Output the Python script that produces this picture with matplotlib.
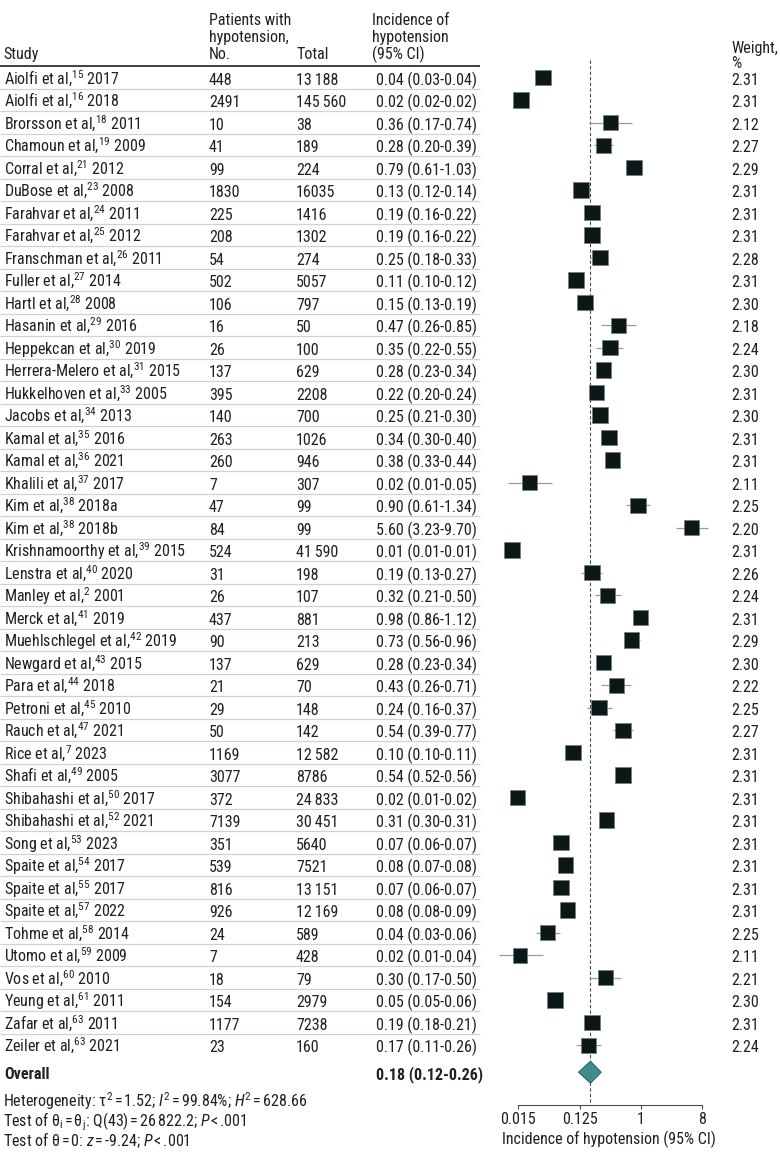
import numpy as np
import matplotlib
matplotlib.use("Agg")
import matplotlib.pyplot as plt
from matplotlib import font_manager as fm
from matplotlib.ticker import NullLocator

# ---------------- data ----------------
names = ["Aiolfi et al", "Aiolfi et al", "Brorsson et al", "Chamoun et al", "Corral et al",
         "DuBose et al", "Farahvar et al", "Farahvar et al", "Franschman et al", "Fuller et al",
         "Hartl et al", "Hasanin et al", "Heppekcan et al", "Herrera-Melero et al",
         "Hukkelhoven et al", "Jacobs et al", "Kamal et al", "Kamal et al", "Khalili et al",
         "Kim et al", "Kim et al", "Krishnamoorthy et al", "Lenstra et al", "Manley et al",
         "Merck et al", "Muehlschlegel et al", "Newgard et al", "Para et al", "Petroni et al",
         "Rauch et al", "Rice et al", "Shafi et al", "Shibahashi et al", "Shibahashi et al",
         "Song et al", "Spaite et al", "Spaite et al", "Spaite et al", "Tohme et al",
         "Utomo et al", "Vos et al", "Yeung et al", "Zafar et al", "Zeiler et al"]
refs = ["15", "16", "18", "19", "21", "23", "24", "25", "26", "27", "28", "29", "30", "31",
        "33", "34", "35", "36", "37", "38", "38", "39", "40", "2", "41", "42", "43", "44", "45",
        "47", "7", "49", "50", "52", "53", "54", "55", "57", "58", "59", "60", "61", "63", "63"]
years = ["2017", "2018", "2011", "2009", "2012", "2008", "2011", "2012", "2011", "2014",
         "2008", "2016", "2019", "2015", "2005", "2013", "2016", "2021", "2017", "2018a",
         "2018b", "2015", "2020", "2001", "2019", "2019", "2015", "2018", "2010", "2021",
         "2023", "2005", "2017", "2021", "2023", "2017", "2017", "2022", "2014", "2009",
         "2010", "2011", "2011", "2021"]
events = [448, 2491, 10, 41, 99, 1830, 225, 208, 54, 502, 106, 16, 26, 137, 395, 140, 263,
          260, 7, 47, 84, 524, 31, 26, 437, 90, 137, 21, 29, 50, 1169, 3077, 372, 7139, 351,
          539, 816, 926, 24, 7, 18, 154, 1177, 23]
totals = ["13\u2009188", "145\u2009560", "38", "189", "224", "16035", "1416", "1302", "274",
          "5057", "797", "50", "100", "629", "2208", "700", "1026", "946", "307", "99", "99",
          "41\u2009590", "198", "107", "881", "213", "629", "70", "148", "142", "12\u2009582",
          "8786", "24\u2009833", "30\u2009451", "5640", "7521", "13\u2009151", "12\u2009169",
          "589", "428", "79", "2979", "7238", "160"]
est = [0.036, 0.0172, 0.36, 0.28, 0.79, 0.13, 0.19, 0.19, 0.25, 0.11, 0.15, 0.47, 0.35,
       0.28, 0.22, 0.25, 0.34, 0.38, 0.023, 0.90, 5.60, 0.0126, 0.19, 0.32, 0.98, 0.73, 0.28,
       0.43, 0.24, 0.54, 0.10, 0.54, 0.0151, 0.31, 0.066, 0.077, 0.066, 0.082, 0.042, 0.0165,
       0.30, 0.054, 0.19, 0.17]
lo = [0.034, 0.016, 0.17, 0.20, 0.61, 0.12, 0.16, 0.16, 0.18, 0.10, 0.13, 0.26, 0.22, 0.23,
      0.20, 0.21, 0.30, 0.33, 0.011, 0.61, 3.23, 0.012, 0.13, 0.21, 0.86, 0.56, 0.23, 0.26,
      0.16, 0.39, 0.10, 0.52, 0.014, 0.30, 0.062, 0.074, 0.062, 0.078, 0.028, 0.008, 0.17,
      0.050, 0.18, 0.11]
hi = [0.038, 0.018, 0.74, 0.39, 1.03, 0.14, 0.22, 0.22, 0.33, 0.12, 0.19, 0.85, 0.55, 0.34,
      0.24, 0.30, 0.40, 0.44, 0.049, 1.34, 9.70, 0.013, 0.27, 0.50, 1.12, 0.96, 0.34, 0.71,
      0.37, 0.77, 0.11, 0.56, 0.016, 0.31, 0.070, 0.080, 0.070, 0.088, 0.064, 0.036, 0.50,
      0.058, 0.21, 0.26]
weights = [2.31, 2.31, 2.12, 2.27, 2.29, 2.31, 2.31, 2.31, 2.28, 2.31, 2.30, 2.18, 2.24, 2.30,
           2.31, 2.30, 2.31, 2.31, 2.11, 2.25, 2.20, 2.31, 2.26, 2.24, 2.31, 2.29, 2.30, 2.22,
           2.25, 2.27, 2.31, 2.31, 2.31, 2.31, 2.31, 2.31, 2.31, 2.31, 2.25, 2.11, 2.21, 2.30,
           2.31, 2.24]
overall_est, overall_lo, overall_hi = 0.18, 0.12, 0.26
tick_vals = [2 ** -6, 2 ** -3, 1, 8]
tick_labels = ["0.015", "0.125", "1", "8"]

# ---------------- fonts ----------------
def pick_font():
    fl = fm.fontManager.ttflist
    nm_set = {f.name for f in fl}
    for nm in ["Roboto Condensed", "Liberation Sans Narrow", "Open Sans Condensed",
               "Noto Sans Condensed", "DejaVu Sans Condensed"]:
        if nm in nm_set:
            return nm, "normal"
    for nm in ["Noto Sans", "Open Sans", "Roboto", "DejaVu Sans"]:
        for f in fl:
            if f.name == nm and str(f.stretch) in ("condensed", "semi-condensed", "extra-condensed"):
                return nm, str(f.stretch)
    return "Roboto", "normal"

FAM, STRETCH = pick_font()
plt.rcParams["font.family"] = [FAM, "DejaVu Sans"]
plt.rcParams["font.stretch"] = STRETCH
plt.rcParams["mathtext.fontset"] = "custom"
plt.rcParams["mathtext.rm"] = f"{FAM}:stretch={STRETCH}"
plt.rcParams["mathtext.it"] = f"{FAM}:style=italic:stretch={STRETCH}"
plt.rcParams["mathtext.bf"] = f"{FAM}:weight=bold:stretch={STRETCH}"
plt.rcParams["mathtext.default"] = "regular"

FS = 11.5
TXT = "#231f20"

# ---------------- layout ----------------
W, H = 780, 1158
fig = plt.figure(figsize=(W / 100, H / 100), dpi=100)
ax = fig.add_axes([0, 0, 1, 1])
X1, PXU = 641.0, 20.43       # pixel of value 1, pixels per log2 unit
Y0, DY = 77.7, 22.5          # pixel of first row, row pitch
ax.set_xscale("log", base=2)
ax.set_xlim(2 ** ((0 - X1) / PXU), 2 ** ((W - X1) / PXU))
ax.set_ylim((H - Y0) / DY, (0 - Y0) / DY)

n = len(names)
rows = np.arange(n)
y_over = n + 0.2
y_axis = n + 1.66
ytr = ax.get_yaxis_transform()  # x axes fraction (= figure fraction), y data
XW = 731                         # weight column

def fx(px):
    return px / W

def fy(px):
    return 1 - px / H

# header
hdr = dict(transform=fig.transFigure, fontsize=FS, color=TXT, va="center", ha="left")
fig.text(fx(3), fy(54.5), "Study", **hdr)
for txt, yy in zip(["Patients with", "hypotension,", "No."], [20.7, 37.5, 54.5]):
    fig.text(fx(209), fy(yy), txt, **hdr)
fig.text(fx(296), fy(54.5), "Total", **hdr)
for txt, yy in zip(["Incidence of", "hypotension", "(95% CI)"], [20.7, 37.5, 54.5]):
    fig.text(fx(372), fy(yy), txt, **hdr)
fig.text(fx(XW), fy(48.5), "Weight,", **hdr)
fig.text(fx(XW), fy(63.5), "%", **hdr)

# rules
ax.hlines(-0.5, 0, fx(480), transform=ytr, color=TXT, lw=1.2, zorder=1)
ax.hlines(rows[:-1] + 0.5, 0, fx(480), transform=ytr, color="#d3d3c3", lw=0.9, zorder=1)

# table rows
for i in range(n):
    yb = i + 0.31
    kw = dict(transform=ytr, fontsize=FS, color=TXT, va="baseline", ha="left")
    ax.text(fx(4), yb, f"{names[i]},$^{{{refs[i]}}}$ {years[i]}", **kw)
    ax.text(fx(209), yb, f"{events[i]}", **kw)
    ax.text(fx(296), yb, totals[i], **kw)
    ax.text(fx(376), yb, f"{est[i]:.2f} ({lo[i]:.2f}-{hi[i]:.2f})", **kw)
    ax.text(fx(XW), yb, f"{weights[i]:.2f}", **kw)

# overall row
kwb = dict(transform=ytr, fontsize=FS, color=TXT, va="baseline", ha="left", fontweight="bold")
ax.text(fx(4), y_over + 0.31, "Overall", **kwb)
ax.text(fx(376), y_over + 0.31,
        f"{overall_est:.2f} ({overall_lo:.2f}-{overall_hi:.2f})", **kwb)

# footer
ft = dict(transform=fig.transFigure, fontsize=FS, color=TXT, va="center", ha="left")
fig.text(fx(3), fy(1101.5),
         r"Heterogeneity: τ$^{2}\,$=$\,$1.52; $\mathit{I}^{2}\,$=$\,$99.84%; "
         r"$\mathit{H}^{2}\,$=$\,$628.66", **ft)
fig.text(fx(3), fy(1121.5),
         r"Test of θ$_{i}\,$=$\,$θ$_{j}$: Q(43)$\,$=$\,$26$\,$822.2; $\mathit{P}\,$<$\,$.001", **ft)
fig.text(fx(3), fy(1140.5),
         r"Test of θ$\,$=$\,$0: $\mathit{z}\,$=$\,$-9.24; $\mathit{P}\,$<$\,$.001", **ft)

# forest plot
ax.plot([overall_est, overall_est], [-0.79, y_axis], ls=(0, (3, 2)), color="#4a4a4a",
        lw=0.8, zorder=1)
ax.hlines(rows, lo, hi, color="#9a9a9a", lw=0.9, zorder=2, clip_on=False)
ax.scatter(est, rows, marker="s", s=np.array(weights) * 54.0, color="#0c1818",
           edgecolors="#6d7b7b", linewidths=0.5, zorder=3, clip_on=False)
ax.fill([overall_lo, overall_est, overall_hi, overall_est],
        [y_over, y_over - 0.49, y_over, y_over + 0.49],
        facecolor="#3f8c88", edgecolor="#1f4d4a", lw=0.6, zorder=4)

# axis
for s in ["top", "left", "right"]:
    ax.spines[s].set_visible(False)
ax.spines["bottom"].set_position(("data", y_axis))
ax.spines["bottom"].set_bounds(tick_vals[0], tick_vals[-1])
ax.spines["bottom"].set_color("#4a4a4a")
ax.spines["bottom"].set_linewidth(0.8)
ax.set_xticks(tick_vals)
ax.set_xticklabels(tick_labels)
ax.xaxis.set_minor_locator(NullLocator())
ax.tick_params(axis="x", direction="out", length=3, width=0.8, color="#4a4a4a",
               pad=2, labelsize=FS, labelcolor=TXT)
ax.set_yticks([])
ax.patch.set_visible(False)
fig.text(fx(609), fy(1139), "Incidence of hypotension (95% CI)", transform=fig.transFigure,
         fontsize=FS, color=TXT, ha="center", va="center")

fig.savefig("out.png", dpi=100)
